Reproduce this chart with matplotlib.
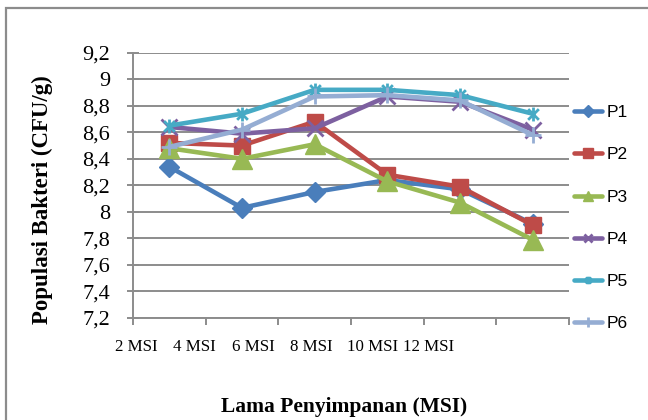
import matplotlib
matplotlib.use("Agg")
import matplotlib.pyplot as plt
from matplotlib.path import Path
from matplotlib.patches import Rectangle

categories = ["2 MSI", "4 MSI", "6 MSI", "8 MSI", "10 MSI", "12 MSI"]
p1 = [8.34, 8.03, 8.15, 8.24, 8.17, 7.91]
p2 = [8.52, 8.50, 8.68, 8.28, 8.19, 7.90]
p3 = [8.48, 8.40, 8.51, 8.23, 8.07, 7.79]
p4 = [8.64, 8.59, 8.63, 8.87, 8.83, 8.62]
p5 = [8.65, 8.74, 8.92, 8.92, 8.88, 8.74]
p6 = [8.49, 8.62, 8.87, 8.88, 8.84, 8.58]
series_names = ["P1", "P2", "P3", "P4", "P5", "P6"]
y_ticks = [7.2, 7.4, 7.6, 7.8, 8.0, 8.2, 8.4, 8.6, 8.8, 9.0, 9.2]
y_tick_labels = ["7,2", "7,4", "7,6", "7,8", "8", "8,2", "8,4", "8,6", "8,8", "9", "9,2"]

# asterisk-style star: an x with a vertical bar
star = Path([(-1, -1), (1, 1), (-1, 1), (1, -1), (0, -1.3), (0, 1.3)],
            [Path.MOVETO, Path.LINETO, Path.MOVETO, Path.LINETO, Path.MOVETO, Path.LINETO])

styles = [
    dict(color="#4A7EBB", marker="D", ms=10.5),
    dict(color="#BE4B48", marker="s", ms=12),
    dict(color="#98B954", marker="^", ms=14),
    dict(color="#7D60A0", marker="x", ms=11, mew=2),
    dict(color="#46AAC5", marker=star, ms=10, mew=2, mfc="none"),
    dict(color="#95ADD3", marker="+", ms=12, mew=2),
]

fig = plt.figure(figsize=(6.48, 4.2), dpi=100)
fig.patches.append(Rectangle((6 / 648, -0.1), 1.2, 1 - 8 / 420 + 0.1,
                             transform=fig.transFigure, fill=False,
                             edgecolor="#8C8C8C", linewidth=1.6))

ax = fig.add_axes([133 / 648, 1 - 318 / 420, (569 - 133) / 648, (318 - 52.7) / 420])

x = list(range(len(categories)))
for name, vals, st in zip(series_names, [p1, p2, p3, p4, p5, p6], styles):
    ax.plot(x, vals, linewidth=3.3, label=name, solid_capstyle="round",
            solid_joinstyle="round", **st)

ax.set_xlim(-0.5, len(categories) - 0.5)
ax.set_ylim(7.2, 9.2)
ax.set_yticks(y_ticks)
ax.set_yticklabels(y_tick_labels, fontfamily="Liberation Serif", fontsize=16)
ax.grid(axis="y", color="#8C8C8C", linewidth=1.4)
ax.set_axisbelow(True)

# category boundaries carry the tick marks; labels sit on minor ticks
ax.set_xticks([i - 0.5 for i in range(len(categories) + 1)])
ax.set_xticklabels([])
ax.set_xticks([-0.46, 0.34, 1.16, 1.96, 2.79, 3.57], minor=True)
ax.set_xticklabels(categories, minor=True, fontfamily="Liberation Serif", fontsize=12.2)
ax.tick_params(axis="x", which="minor", length=0, pad=15)
ax.tick_params(axis="x", which="major", direction="out", length=5, width=1.4, color="#8C8C8C")
ax.tick_params(axis="y", direction="inout", length=9, width=1.4, color="#8C8C8C", pad=12)

for side in ["top", "right"]:
    ax.spines[side].set_visible(False)
for side in ["left", "bottom"]:
    ax.spines[side].set_color("#8C8C8C")
    ax.spines[side].set_linewidth(1.4)

fig.text(42 / 648, 1 - 200 / 420, "Populasi Bakteri (CFU/g)", rotation=90,
         fontfamily="Liberation Serif", fontweight="bold", fontsize=16.5,
         ha="center", va="center")
fig.text(344 / 648, 1 - 407 / 420, "Lama Penyimpanan (MSI)",
         fontfamily="Liberation Serif", fontweight="bold", fontsize=15.5,
         ha="center", va="center")

leg = ax.legend(loc="upper left", bbox_to_anchor=(574 / 648, 1 - 105 / 420),
                bbox_transform=fig.transFigure, frameon=False,
                prop={"family": "Liberation Sans", "size": 12.5},
                handlelength=1.6, handletextpad=0.3, labelspacing=1.56,
                markerscale=0.55, borderaxespad=0, borderpad=0)

fig.savefig("out.png", dpi=100)
